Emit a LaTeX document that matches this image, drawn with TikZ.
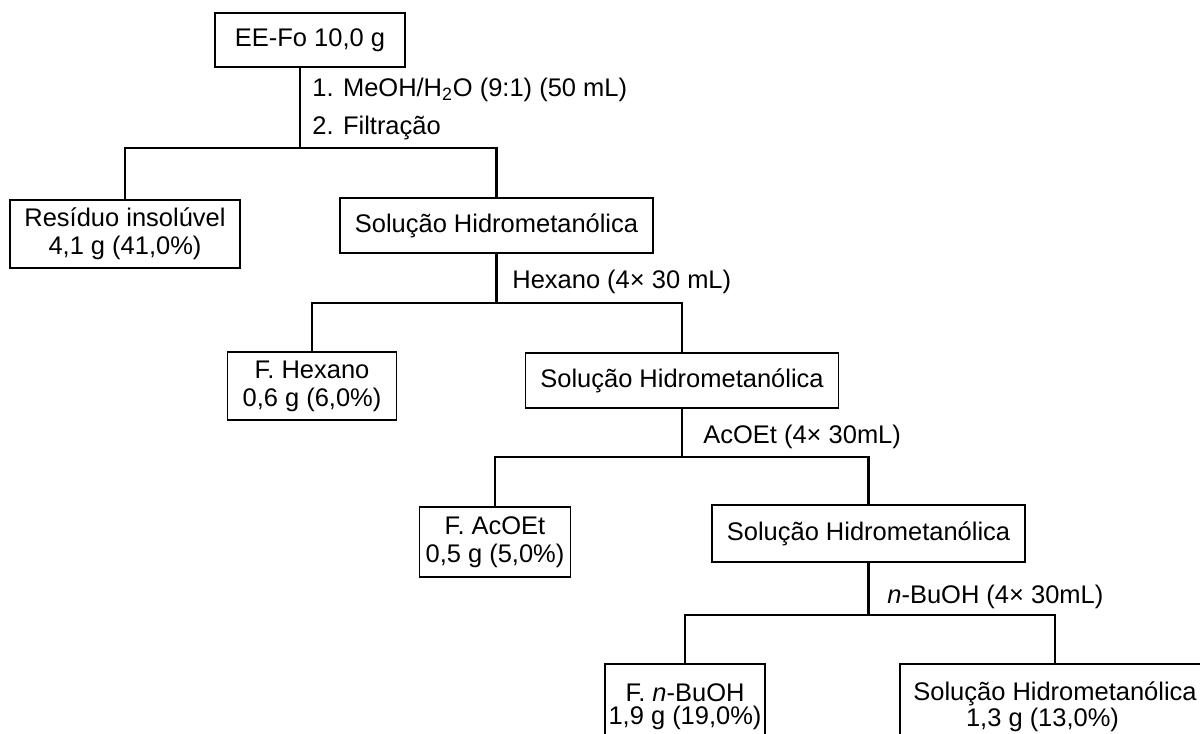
\documentclass[tikz,border=0pt]{standalone}
\usepackage{fontspec}
\setmainfont{Liberation Sans}

\begin{document}
\begin{tikzpicture}[
  every node/.style={sharp corners},
  conn/.style={line width=1.4pt},
  box/.style={
    rectangle, draw, line width=1.0pt,
    font=\fontsize{14.5}{16}\selectfont,
    align=center, inner sep=0pt
  },
  solbox/.style={box, minimum width=6.26cm, minimum height=1.1cm},
  tightbox/.style={box, font=\fontsize{14.5}{13.3}\selectfont},
  solv/.style={anchor=west, inner sep=0pt,
    font=\fontsize{14.5}{16}\selectfont}
]

%% page is 24 x 14.66 cm, y grows downwards (negative)
\clip (0,0) rectangle (24,-14.66);

%% ─── LEVEL 0: CRUDE EXTRACT ─────────────────────────────────────────────
\node[box, minimum width=3.8cm, minimum height=1.08cm] (ee) at (6.2,-0.8)
  {EE-Fo 10,0 g};

\node[solv] (meoh) at (6.24,-1.8) {1. MeOH/H\textsubscript{2}O (9:1) (50 mL)};
\node[solv] (filt) at (6.24,-2.56) {2. Filtração};

\coordinate (j1) at (6.0,-2.96);

\node[box, minimum width=4.6cm, minimum height=1.36cm] (res) at (2.5,-4.68)
  {Resíduo insolúvel\\4,1 g (41,0\%)};
\node[solbox] (s1) at (9.93,-4.51) {Solução Hidrometanólica};

\draw[conn] (j1 |- ee.south) -- (j1);
\draw[conn] (res.north) |- (j1) -| (s1.north);

%% ─── LEVEL 1: HEXANE PARTITION ──────────────────────────────────────────
\coordinate (j2) at (9.93,-6.06);
\node[solv] (hex) at (10.24,-5.64) {Hexano (4× 30 mL)};

\node[box, minimum width=3.38cm, minimum height=1.36cm] (fhex) at (6.24,-7.72)
  {F. Hexano\\0,6 g (6,0\%)};
\node[solbox] (s2) at (13.64,-7.61) {Solução Hidrometanólica};

\draw[conn] (s1.south) -- (j2);
\draw[conn] (fhex.north) |- (j2) -| (s2.north);

%% ─── LEVEL 2: ETHYL ACETATE PARTITION ───────────────────────────────────
\coordinate (j3) at (13.64,-9.14);
\node[solv] (acoet) at (14.06,-8.74) {AcOEt (4× 30mL)};

\node[box, minimum width=3.02cm, minimum height=1.40cm] (fac) at (9.9,-10.84)
  {F. AcOEt\\0,5 g (5,0\%)};
\node[solbox, minimum height=1.14cm] (s3) at (17.37,-10.67) {Solução Hidrometanólica};

\draw[conn] (s2.south) -- (j3);
\draw[conn] (fac.north) |- (j3) -| (s3.north);

%% ─── LEVEL 3: n-BUTANOL PARTITION ───────────────────────────────────────
\coordinate (j4) at (17.37,-12.30);
\node[solv] (buoh) at (17.74,-11.94) {\textit{n}-BuOH (4× 30mL)};

%% bottom boxes run off the page edge
\node[tightbox, minimum width=3.2cm, minimum height=1.7cm] (fbu) at (13.7,-14.13)
  {F. \textit{n}-BuOH\\1,9 g (19,0\%)};
\node[tightbox, minimum width=6.2cm, minimum height=1.7cm] (sfin) at (21.1,-14.13)
  {Solução Hidrometanólica\\1,3 g (13,0\%)\hspace*{0.5cm}};

\draw[conn] (s3.south) -- (j4);
\draw[conn] (fbu.north) |- (j4) -| (sfin.north);

\end{tikzpicture}
\end{document}
